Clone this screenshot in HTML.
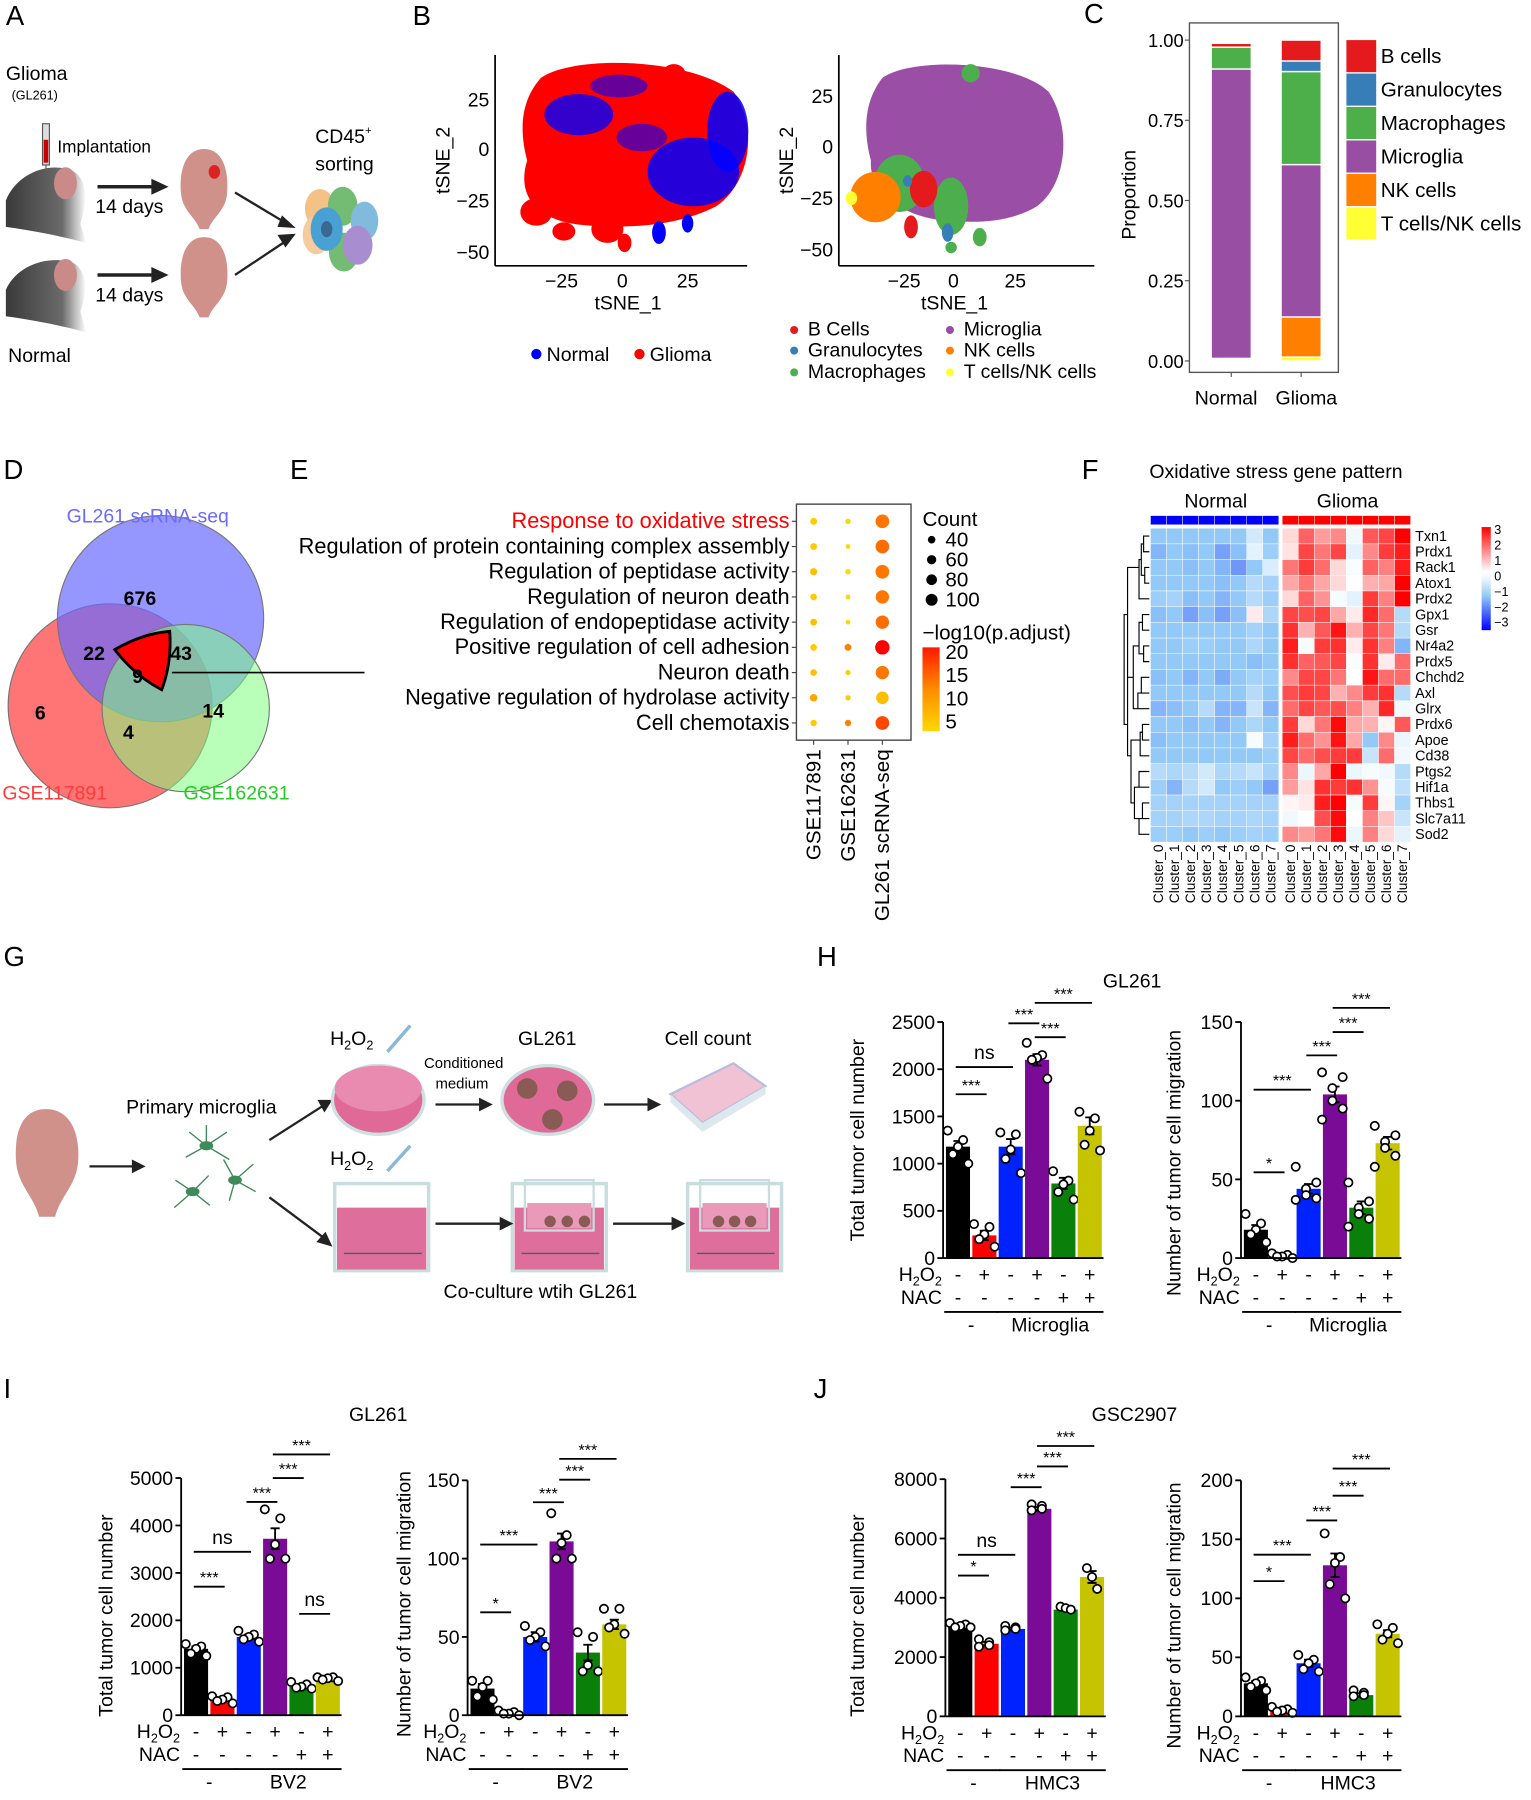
<!DOCTYPE html>
<html><head><meta charset="utf-8">
<style>
html,body{margin:0;padding:0;background:#fff;}
svg{display:block;font-family:"Liberation Sans",Arial,sans-serif;}
</style></head>
<body>
<svg id="fig" width="1531" height="1800" viewBox="0 0 1336 1571" xmlns="http://www.w3.org/2000/svg">
<!-- Panel letters -->
<g font-size="24" fill="#000">
<text x="5" y="22">A</text>
<text x="360" y="22">B</text>
<text x="946" y="20">C</text>
<text x="3" y="418">D</text>
<text x="253" y="418">E</text>
<text x="944" y="418">F</text>
<text x="3" y="843">G</text>
<text x="713" y="843">H</text>
<text x="3" y="1220">I</text>
<text x="710" y="1220">J</text>
</g>

<!-- Panel A illustration -->
<g>
<defs>
<linearGradient id="mouseG" x1="0" y1="0" x2="1" y2="0"><stop offset="0" stop-color="#3a3a3a"/><stop offset="0.7" stop-color="#6a6a6a"/><stop offset="1" stop-color="#fff"/></linearGradient>
</defs>
<text x="5" y="70" font-size="17">Glioma</text>
<text x="10" y="87" font-size="11">(GL261)</text>
<rect x="37" y="108" width="6" height="36" fill="#ddd" stroke="#555"/>
<rect x="38" y="122" width="4" height="20" fill="#c00"/>
<line x1="40" y1="144" x2="40" y2="160" stroke="#555"/>
<text x="50" y="133" font-size="15">Implantation</text>
<path d="M5,175 C15,150 45,140 65,150 C78,160 75,180 70,195 L75,212 C50,205 20,200 5,198 Z" fill="url(#mouseG)"/>
<ellipse cx="57" cy="160" rx="10" ry="14" fill="#c98a88"/>
<path d="M5,253 C15,230 45,222 65,230 C78,240 75,258 70,272 L75,290 C50,283 20,278 5,276 Z" fill="url(#mouseG)"/>
<ellipse cx="57" cy="240" rx="10" ry="14" fill="#c98a88"/>
<line x1="85" y1="163" x2="135" y2="163" stroke="#222" stroke-width="3"/><path d="M132,156 L147,163 L132,170Z" fill="#222"/>
<line x1="85" y1="240" x2="135" y2="240" stroke="#222" stroke-width="3"/><path d="M132,233 L147,240 L132,247Z" fill="#222"/>
<text x="83" y="186" font-size="17">14 days</text>
<text x="83" y="263" font-size="17">14 days</text>
<path d="M178,130 C195,130 200,150 198,170 C196,185 185,190 182,200 L174,200 C171,190 160,185 158,170 C156,150 161,130 178,130Z" fill="#cf918a"/>
<ellipse cx="187" cy="150" rx="5" ry="6" fill="#d22"/>
<path d="M178,207 C195,207 200,227 198,247 C196,262 185,267 182,277 L174,277 C171,267 160,262 158,247 C156,227 161,207 178,207Z" fill="#cf918a"/>
<line x1="205" y1="168" x2="250" y2="195" stroke="#222" stroke-width="2"/><path d="M246,188 L258,199 L242,198Z" fill="#222"/>
<line x1="205" y1="240" x2="250" y2="210" stroke="#222" stroke-width="2"/><path d="M242,205 L258,204 L249,216Z" fill="#222"/>
<text x="275" y="125" font-size="17">CD45<tspan font-size="10" dy="-8">+</tspan></text>
<text x="275" y="149" font-size="17">sorting</text>
<g opacity="0.85">
<ellipse cx="279" cy="182" rx="13" ry="17" fill="#f3b872"/>
<ellipse cx="299" cy="180" rx="13" ry="17" fill="#5cb05c"/>
<ellipse cx="318" cy="193" rx="12" ry="17" fill="#6bb0d8"/>
<ellipse cx="276" cy="205" rx="12" ry="17" fill="#f3c48e"/>
<ellipse cx="300" cy="220" rx="13" ry="17" fill="#5cb05c"/>
<ellipse cx="312" cy="214" rx="13" ry="17" fill="#9a7ac8"/>
<ellipse cx="285" cy="200" rx="14" ry="19" fill="#2a90cc"/>
<ellipse cx="285" cy="200" rx="5" ry="7" fill="#174f80"/>
</g>
<text x="7" y="316" font-size="17">Normal</text>
</g>

<!-- Panel B tSNE -->
<g>
<path d="M472,68 C500,48 600,50 640,80 C662,110 655,160 625,180 C590,198 545,200 505,196 C470,192 450,172 460,140 C452,110 456,86 472,68Z" fill="#f00"/>
<g fill="#00f">
<ellipse cx="605" cy="150" rx="40" ry="30" opacity="0.85"/>
<ellipse cx="505" cy="100" rx="30" ry="18" opacity="0.8"/>
<ellipse cx="635" cy="115" rx="18" ry="35" opacity="0.85"/>
<ellipse cx="560" cy="120" rx="22" ry="12" opacity="0.6"/>
<ellipse cx="540" cy="75" rx="25" ry="10" opacity="0.6"/>
<ellipse cx="575" cy="203" rx="6" ry="10"/>
<ellipse cx="600" cy="195" rx="5" ry="8"/>
</g>
<g fill="#f00">
<ellipse cx="468" cy="185" rx="14" ry="12"/><ellipse cx="492" cy="202" rx="10" ry="8"/>
<ellipse cx="545" cy="212" rx="6" ry="8"/><ellipse cx="530" cy="200" rx="14" ry="12"/>
<ellipse cx="588" cy="64" rx="10" ry="8"/>
</g>
<line x1="432" y1="48" x2="432" y2="232" stroke="#000" stroke-width="1.5"/>
<line x1="432" y1="232" x2="652" y2="232" stroke="#000" stroke-width="1.5"/>
<g font-size="17" text-anchor="end">
<text x="427" y="93">25</text><text x="427" y="136">0</text><text x="427" y="181">−25</text><text x="427" y="226">−50</text></g>
<g font-size="17" text-anchor="middle">
<text x="490" y="251">−25</text><text x="543" y="251">0</text><text x="600" y="251">25</text>
<text x="548" y="270">tSNE_1</text></g>
<text transform="translate(392,140) rotate(-90)" font-size="17" text-anchor="middle">tSNE_2</text>
<g font-size="17">
<circle cx="468" cy="309" r="4.5" fill="#00f"/><text x="477" y="315">Normal</text>
<circle cx="558" cy="309" r="4.5" fill="#f00"/><text x="567" y="315">Glioma</text></g>
</g>

<g>
<path d="M770,68 C795,50 885,52 915,80 C935,110 932,160 905,180 C880,195 850,195 820,192 C790,188 758,170 760,140 C752,110 756,86 770,68Z" fill="#9b4ea6"/>
<g fill="#4cae4c">
<ellipse cx="785" cy="160" rx="22" ry="25"/><ellipse cx="830" cy="180" rx="15" ry="25"/><ellipse cx="855" cy="207" rx="6" ry="8"/><ellipse cx="847" cy="64" rx="8" ry="8"/><ellipse cx="830" cy="216" rx="5" ry="5"/></g>
<ellipse cx="764" cy="172" rx="22" ry="22" fill="#ff8000"/>
<ellipse cx="806" cy="165" rx="12" ry="16" fill="#e41a1c"/>
<ellipse cx="795" cy="198" rx="6" ry="10" fill="#e41a1c"/>
<ellipse cx="827" cy="203" rx="5" ry="8" fill="#377eb8"/>
<ellipse cx="792" cy="158" rx="4" ry="5" fill="#377eb8"/>
<ellipse cx="743" cy="173" rx="5" ry="6" fill="#ffff33"/>
<line x1="732" y1="48" x2="732" y2="232" stroke="#000" stroke-width="1.5"/>
<line x1="732" y1="232" x2="955" y2="232" stroke="#000" stroke-width="1.5"/>
<g font-size="17" text-anchor="end">
<text x="727" y="90">25</text><text x="727" y="134">0</text><text x="727" y="179">−25</text><text x="727" y="224">−50</text></g>
<g font-size="17" text-anchor="middle">
<text x="789" y="251">−25</text><text x="832" y="251">0</text><text x="886" y="251">25</text>
<text x="833" y="270">tSNE_1</text></g>
<text transform="translate(692,140) rotate(-90)" font-size="17" text-anchor="middle">tSNE_2</text>
<g font-size="17">
<circle cx="693" cy="288" r="3.5" fill="#e41a1c"/><text x="705" y="293">B Cells</text>
<circle cx="693" cy="306" r="3.5" fill="#377eb8"/><text x="705" y="311">Granulocytes</text>
<circle cx="693" cy="325" r="3.5" fill="#4daf4a"/><text x="705" y="330">Macrophages</text>
<circle cx="829" cy="288" r="3.5" fill="#984ea3"/><text x="841" y="293">Microglia</text>
<circle cx="829" cy="306" r="3.5" fill="#ff7f00"/><text x="841" y="311">NK cells</text>
<circle cx="829" cy="325" r="3.5" fill="#ffff33"/><text x="841" y="330">T cells/NK cells</text>
</g>
</g>

<!-- Panel C -->
<g id="panelC"></g>

<!-- Panel D Venn -->
<g>
<circle cx="96" cy="616" r="89" fill="#ff5c5c" stroke="#777" fill-opacity="0.85"/>
<circle cx="140" cy="540" r="90" fill="#6a6aff" stroke="#777" fill-opacity="0.7"/>
<circle cx="162" cy="618" r="73" fill="#80ff80" stroke="#777" fill-opacity="0.55"/>
<path d="M100,567 Q124,553 148,551 Q150,578 141,602 Q118,590 100,567Z" fill="#f00" stroke="#000" stroke-width="2.5"/>
<line x1="150" y1="587" x2="318" y2="587" stroke="#000" stroke-width="1.5"/>
<g font-size="17" font-weight="bold" text-anchor="middle">
<text x="122" y="528">676</text><text x="82" y="576">22</text><text x="158" y="576">43</text><text x="120" y="596">9</text>
<text x="35" y="628">6</text><text x="186" y="626">14</text><text x="112" y="645">4</text></g>
<text x="58" y="456" font-size="17" fill="#6a6aff">GL261 scRNA-seq</text>
<text x="2" y="698" font-size="17" fill="#ff3b3b">GSE117891</text>
<text x="160" y="698" font-size="17" fill="#22cc22">GSE162631</text>
</g>

<!-- Panel E -->
<g id="panelE"></g>
<!-- Panel F -->
<g id="panelF"></g>

<!-- Panel G schematic -->
<g>
<path d="M40,968 C62,968 70,990 68,1015 C66,1035 52,1045 48,1062 L34,1062 C30,1045 16,1035 14,1015 C12,990 18,968 40,968Z" fill="#cf918a"/>
<line x1="78" y1="1018" x2="118" y2="1018" stroke="#222" stroke-width="2"/><path d="M115,1012 L127,1018 L115,1024Z" fill="#222"/>
<text x="110" y="972" font-size="17">Primary microglia</text>
<g stroke="#3f8a5a" stroke-width="1.2" fill="none">
<path d="M180,1000 l-15,-12 m15,12 l18,-12 m-18,12 l-18,10 m18,-10 l20,12 m-20,-12 l0,-18"/>
<path d="M168,1040 l-15,-10 m15,10 l-16,14 m16,-14 l15,12 m-15,-12 l14,-14"/>
<path d="M205,1030 l16,-14 m-16,14 l18,10 m-18,-10 l-10,-18 m10,18 l-5,18"/>
</g>
<g fill="#3f8a5a"><ellipse cx="180" cy="1000" rx="6" ry="4"/><ellipse cx="168" cy="1040" rx="6" ry="4"/><ellipse cx="205" cy="1030" rx="6" ry="4"/></g>
<line x1="235" y1="995" x2="282" y2="965" stroke="#222" stroke-width="2"/><path d="M277,960 L290,960 L283,971Z" fill="#222"/>
<line x1="235" y1="1045" x2="282" y2="1080" stroke="#222" stroke-width="2"/><path d="M276,1084 L290,1088 L284,1075Z" fill="#222"/>
<text x="288" y="912" font-size="17">H<tspan font-size="11" dy="4">2</tspan><tspan dy="-4">O</tspan><tspan font-size="11" dy="4">2</tspan></text>
<line x1="338" y1="918" x2="358" y2="895" stroke="#8ab8d8" stroke-width="3"/>
<ellipse cx="330" cy="960" rx="40" ry="30" fill="#e06a97" stroke="#cfe0e0" stroke-width="3"/>
<ellipse cx="330" cy="950" rx="38" ry="20" fill="#e98ab0"/>
<text x="370" y="932" font-size="13">Conditioned</text>
<text x="380" y="950" font-size="13">medium</text>
<line x1="380" y1="964" x2="420" y2="964" stroke="#222" stroke-width="2"/><path d="M418,958 L430,964 L418,970Z" fill="#222"/>
<text x="452" y="912" font-size="17">GL261</text>
<ellipse cx="478" cy="960" rx="40" ry="30" fill="#e06a97" stroke="#cfe0e0" stroke-width="3"/>
<g fill="#8a5a55"><circle cx="460" cy="950" r="9"/><circle cx="495" cy="952" r="9"/><circle cx="482" cy="977" r="9"/></g>
<line x1="527" y1="964" x2="567" y2="964" stroke="#222" stroke-width="2"/><path d="M565,958 L577,964 L565,970Z" fill="#222"/>
<text x="580" y="912" font-size="17">Cell count</text>
<path d="M585,955 L640,928 L668,948 L613,980Z" fill="#f1c2d4" stroke="#bbd" stroke-width="2"/>
<path d="M585,955 L585,962 L613,988 L668,955 L668,948 L613,980Z" fill="#dde8ee"/>
<text x="288" y="1017" font-size="17">H<tspan font-size="11" dy="4">2</tspan><tspan dy="-4">O</tspan><tspan font-size="11" dy="4">2</tspan></text>
<line x1="338" y1="1022" x2="358" y2="1000" stroke="#8ab8d8" stroke-width="3"/>
<g>
<rect x="292" y="1033" width="82" height="76" fill="#fff" stroke="#c8dede" stroke-width="3"/><rect x="294" y="1054" width="78" height="54" fill="#de6e9c"/>
<rect x="447" y="1033" width="82" height="76" fill="#fff" stroke="#c8dede" stroke-width="3"/><rect x="449" y="1054" width="78" height="54" fill="#de6e9c"/>
<rect x="458" y="1030" width="60" height="44" fill="none" stroke="#c8dede" stroke-width="2"/><rect x="460" y="1050" width="56" height="22" fill="#e99ab8"/>
<rect x="600" y="1033" width="82" height="76" fill="#fff" stroke="#c8dede" stroke-width="3"/><rect x="602" y="1054" width="78" height="54" fill="#de6e9c"/>
<rect x="611" y="1030" width="60" height="44" fill="none" stroke="#c8dede" stroke-width="2"/><rect x="613" y="1050" width="56" height="22" fill="#e99ab8"/>
<g fill="#8a5a55"><circle cx="480" cy="1066" r="5"/><circle cx="495" cy="1066" r="5"/><circle cx="510" cy="1066" r="5"/><circle cx="627" cy="1066" r="5"/><circle cx="641" cy="1066" r="5"/><circle cx="655" cy="1066" r="5"/></g>
<g stroke="#3f6a4a" stroke-width="1.2"><line x1="300" y1="1094" x2="368" y2="1094"/><line x1="455" y1="1094" x2="523" y2="1094"/><line x1="608" y1="1094" x2="676" y2="1094"/></g>
</g>
<line x1="380" y1="1068" x2="438" y2="1068" stroke="#222" stroke-width="2"/><path d="M436,1062 L448,1068 L436,1074Z" fill="#222"/>
<line x1="535" y1="1068" x2="588" y2="1068" stroke="#222" stroke-width="2"/><path d="M586,1062 L598,1068 L586,1074Z" fill="#222"/>
<text x="387" y="1133" font-size="17">Co-culture wtih GL261</text>
</g>

<g id="bars"></g>
<g font-size="17" text-anchor="middle">
<text x="988" y="862">GL261</text>
<text x="330" y="1240">GL261</text>
<text x="990" y="1240">GSC2907</text>
</g>
</svg>

<script>
// ---------------- Panel C data ----------------
const cCategories = ['T cells/NK cells','NK cells','Microglia','Macrophages','Granulocytes','B cells'];
const cColors = ['#ffff33','#ff7f00','#984ea3','#4daf4a','#377eb8','#e41a1c'];
const cNormal = [0.004, 0.004, 0.902, 0.068, 0.0, 0.012];
const cGlioma = [0.012, 0.125, 0.475, 0.29, 0.033, 0.065];
const cTicks = [0, 0.25, 0.5, 0.75, 1.0];
const cTickLabels = ['0.00','0.25','0.50','0.75','1.00'];
const cGroups = ['Normal','Glioma'];

// ---------------- Panel E data ----------------
const eTerms = ['Response to oxidative stress','Regulation of protein containing complex assembly','Regulation of peptidase activity','Regulation of neuron death','Regulation of endopeptidase activity','Positive regulation of cell adhesion','Neuron death','Negative regulation of hydrolase activity','Cell chemotaxis'];
const eDatasets = ['GSE117891','GSE162631','GL261 scRNA-seq'];
const eCount1 = [30, 30, 32, 28, 30, 28, 28, 36, 26];
const eCount2 = [18, 14, 18, 14, 14, 30, 16, 18, 26];
const eCount3 = [118, 118, 118, 112, 112, 130, 112, 100, 118];
const ePadj1 = [4, 4, 5, 4, 5, 4, 5, 7, 4];
const ePadj2 = [3, 3, 3, 3, 3, 10, 4, 4, 10];
const ePadj3 = [11, 12, 11, 11, 12, 21, 11, 5, 15];
const eCountLegend = [40, 60, 80, 100];
const eColorLegend = [20, 15, 10, 5];

// ---------------- Panel F data ----------------
const fGenes = ['Txn1','Prdx1','Rack1','Atox1','Prdx2','Gpx1','Gsr','Nr4a2','Prdx5','Chchd2','Axl','Glrx','Prdx6','Apoe','Cd38','Ptgs2','Hif1a','Thbs1','Slc7a11','Sod2'];
const fClusters = ['Cluster_0','Cluster_1','Cluster_2','Cluster_3','Cluster_4','Cluster_5','Cluster_6','Cluster_7'];
const fNormal = [
[-1.0,-1.0,-1.0,-1.0,-1.0,-1.0,-0.3,-1.0],
[-1.2,-1.0,-1.1,-1.0,-1.4,-1.1,-0.1,-0.9],
[-1.0,-1.0,-1.1,-1.0,-1.2,-1.5,-1.0,-0.2],
[-1.0,-1.0,-1.0,-1.0,-1.1,-1.0,-0.6,-0.8],
[-0.9,-0.8,-1.1,-1.0,-1.2,-1.0,-0.6,-0.9],
[-1.1,-1.0,-1.4,-1.1,-1.4,-1.1,0.6,-0.7],
[-1.0,-1.0,-1.0,-1.0,-1.0,-1.0,-0.8,-1.0],
[-1.0,-1.0,-0.9,-0.9,-1.0,-1.0,-0.7,-1.0],
[-1.0,-1.0,-1.0,-1.0,-1.0,-1.0,-1.1,-1.0],
[-1.1,-1.0,-1.2,-1.0,-1.3,-1.0,-0.8,-0.9],
[-1.0,-1.0,-1.0,-1.0,-1.0,-1.0,-0.6,-1.0],
[-1.2,-1.1,-1.0,-0.6,-1.2,-1.2,-0.4,-1.2],
[-1.0,-1.0,-1.1,-1.0,-1.2,-1.0,-0.7,-1.0],
[-1.1,-1.0,-1.0,-1.0,-1.0,-1.0,0.2,-0.8],
[-1.0,-1.0,-1.0,-1.0,-1.0,-1.0,-1.0,-0.9],
[-0.6,-0.7,-0.6,-0.3,-0.7,-0.6,-0.4,-0.8],
[-0.9,-1.2,-0.6,-0.3,-1.0,-0.9,-1.0,-1.4],
[-0.8,-0.8,-0.8,-0.8,-0.8,-0.8,-0.8,-0.8],
[-0.8,-0.8,-0.7,-0.7,-0.8,-0.8,-0.7,-0.8],
[-0.9,-0.9,-1.0,-0.9,-1.0,-0.9,-0.8,-0.9]];
const fGlioma = [
[0.8,2.0,1.4,1.6,0.1,2.1,2.3,3.0],
[0.7,2.3,1.8,2.3,-0.1,1.6,2.4,2.7],
[1.8,2.4,1.9,0.8,0.3,2.0,1.7,2.7],
[1.3,1.8,1.3,0.8,0.4,1.2,1.3,3.0],
[0.8,2.0,1.5,0.2,-0.1,2.4,1.7,3.0],
[2.3,2.2,2.3,1.3,0.6,2.6,1.9,-0.6],
[2.5,1.2,2.1,2.8,1.2,2.3,1.8,-0.6],
[2.7,0.2,2.4,2.5,0.6,2.5,1.7,-1.2],
[2.5,2.0,2.1,2.3,0.3,2.5,0.6,1.9],
[1.6,2.3,2.3,1.8,0.4,2.8,1.9,1.9],
[2.2,2.4,2.3,1.2,1.6,2.4,2.5,-0.6],
[1.9,2.3,2.1,2.2,1.7,1.2,2.6,0.1],
[2.4,0.8,1.8,2.9,1.3,1.2,0.5,2.1],
[2.7,1.9,1.5,2.8,1.3,-1.0,1.6,0.0],
[2.3,1.9,2.2,2.4,2.4,-0.4,1.9,0.1],
[1.6,0.0,1.3,3.0,0.0,0.2,0.1,-0.6],
[1.4,0.7,2.5,2.4,2.5,1.5,0.2,-0.5],
[0.5,0.6,2.7,3.0,0.2,2.4,0.5,-0.8],
[0.1,0.4,2.2,2.9,0.4,1.7,1.0,-0.4],
[1.6,1.4,1.8,2.9,0.0,1.7,0.8,-0.1]];
const fLegendTicks = [3,2,1,0,-1,-2,-3];

// ---------------- Bar chart data ----------------
const barColors = ['#000000','#ff0000','#0022ff','#7a0b96','#0a800a','#c6c400'];
const h2o2Signs = ['-','+','-','+','-','+'];
const nacSigns = ['-','-','-','-','+','+'];

const hLeftTicks = [0,500,1000,1500,2000,2500];
const hLeftValues = [1180, 240, 1180, 2100, 790, 1400];
const hLeftErr = [60, 50, 80, 60, 60, 90];
const hLeftPoints = [[1350,1250,1180,1100,1000],[360,330,250,200,120],[1330,1310,1150,1050,900],[2280,2150,2120,2100,1900],[920,820,780,700,620],[1550,1480,1350,1200,1140]];
const hLeftSigs = [[0,1,1735,'***'],[0,2,2023,'ns'],[2,3,2486,'***'],[3,4,2339,'***'],[3,5,2703,'***']];

const hRightTicks = [0,50,100,150];
const hRightValues = [18, 2, 44, 104, 32, 73];
const hRightErr = [3, 0.6, 3, 5, 4, 4];
const hRightPoints = [[28,22,18,15,10],[3,2,1,1,0],[58,48,44,40,38,37],[118,115,108,100,95,88],[48,36,32,28,25,20],[84,78,74,70,65,58]];
const hRightSigs = [[0,1,54.5,'*'],[0,2,107,'***'],[2,3,128.8,'***'],[3,4,143.6,'***'],[3,5,159,'***']];

const iLeftTicks = [0,1000,2000,3000,4000,5000];
const iLeftValues = [1400, 330, 1650, 3720, 600, 770];
const iLeftErr = [50, 30, 50, 220, 30, 30];
const iLeftPoints = [[1500,1450,1400,1300,1250],[400,380,330,300,250],[1780,1700,1650,1600,1550],[4340,4150,3600,3300,3300],[700,650,600,580,560],[800,800,780,750,720]];
const iLeftSigs = [[0,1,2710,'***'],[0,2,3445,'ns'],[2,3,4496,'***'],[3,4,5000,'***'],[3,5,5497,'***'],[4,5,2136,'ns']];

const iRightTicks = [0,50,100,150];
const iRightValues = [17, 1.5, 50, 111, 40, 58];
const iRightErr = [3, 0.5, 3, 5, 5, 3];
const iRightPoints = [[22,22,18,12,10],[3,2,1,1,0],[57,53,50,48,44],[129,115,110,100,100],[53,50,32,28,28],[68,68,58,56,52]];
const iRightSigs = [[0,1,65.7,'*'],[0,2,109,'***'],[2,3,136,'***'],[3,4,150.4,'***'],[3,5,163.7,'***']];

const jLeftTicks = [0,2000,4000,6000,8000];
const jLeftValues = [3050, 2450, 2950, 7000, 3600, 4700];
const jLeftErr = [40, 60, 40, 60, 40, 200];
const jLeftPoints = [[3150,3100,3050,3000,3000],[2600,2500,2400,2350],[3050,3000,2950,2900],[7150,7100,7000,6950],[3700,3650,3600],[5000,4700,4300]];
const jLeftSigs = [[0,1,4750,'*'],[0,2,5450,'ns'],[2,3,7730,'***'],[3,4,8430,'***'],[3,5,9120,'***']];

const jRightTicks = [0,50,100,150,200];
const jRightValues = [28, 6, 45, 128, 18, 70];
const jRightErr = [2, 1, 3, 10, 1.5, 3];
const jRightPoints = [[33,30,28,25,22],[8,6,5,4,3],[52,48,45,40,38],[155,135,130,112,100],[22,20,18,17],[78,75,70,65,62]];
const jRightSigs = [[0,1,114.6,'*'],[0,2,137,'***'],[2,3,166,'***'],[3,4,187,'***'],[3,5,210,'***']];

// ---------------- helpers ----------------
const NS = 'http://www.w3.org/2000/svg';
function mk(tag, attrs, parent, txt) {
  const e = document.createElementNS(NS, tag);
  for (const k in attrs) e.setAttribute(k, attrs[k]);
  if (txt !== undefined) e.textContent = txt;
  parent.appendChild(e);
  return e;
}

// ---------------- Panel C ----------------
(function(){
  const g = document.getElementById('panelC');
  const y = v => 315 - 280 * v;
  const frame = mk('rect', {x:1038, y:20, width:130, height:305, fill:'none', stroke:'#555', 'stroke-width':1.2}, g);
  
  
  cTicks.forEach((t, i) => {
    mk('line', {x1:1034, x2:1038, y1:y(t), y2:y(t), stroke:'#555'}, g);
    const tl = mk('text', {x:1033, y:y(t)+6, 'font-size':16, 'text-anchor':'end'}, g, cTickLabels[i]);
    
    
  });
  const yl = mk('text', {transform:'translate(991,170) rotate(-90)', 'font-size':17, 'text-anchor':'middle'}, g, 'Proportion');
  
  
  const series = [cNormal, cGlioma];
  const xs = [1057, 1118];
  series.forEach((vals, gi) => {
    let cum = 0;
    vals.forEach((v, ci) => {
      if (v > 0) {
        const r = mk('rect', {x:xs[gi], y:y(cum+v), width:35, height:Math.max(0.5, 280*v), fill:cColors[ci], stroke:'#fff', 'stroke-width':1.2}, g);
        
        
      }
      cum += v;
    });
    mk('line', {x1:xs[gi]+17.5, x2:xs[gi]+17.5, y1:325, y2:329, stroke:'#555'}, g);
    const lab = mk('text', {x:xs[gi]+(gi===0?13:22), y:353, 'font-size':17, 'text-anchor':'middle'}, g, cGroups[gi]);
    
    
  });
  cCategories.slice().reverse().forEach((name, i) => {
    const ci = cCategories.length - 1 - i;
    const ly = 35 + i * 29.2;
    const sw = mk('rect', {x:1175, y:ly, width:26, height:28, fill:cColors[ci]}, g);
    
    
    const lt = mk('text', {x:1205, y:ly+20, 'font-size':18}, g, name);
    
    
  });
})();

// ---------------- Panel E ----------------
(function(){
  const g = document.getElementById('panelE');
  const colX = [710, 740, 770];
  const rowY = i => 455 + i * 22;
  const rad = c => Math.sqrt(c) * 0.55;
  const col = v => { const t = Math.max(0, Math.min(1, (v - 3) / 18)); return 'rgb(255,' + Math.round(215 * (1 - t)) + ',0)'; };
  const box = mk('rect', {x:695, y:440, width:100, height:206, fill:'none', stroke:'#444', 'stroke-width':1.2}, g);
  
  
  const counts = [eCount1, eCount2, eCount3];
  const padjs = [ePadj1, ePadj2, ePadj3];
  eTerms.forEach((t, i) => {
    const tx = mk('text', {x:689, y:rowY(i)+6, 'font-size':19, 'text-anchor':'end', fill: i===0 ? '#f00' : '#000'}, g, t);
    
    
    mk('line', {x1:691, x2:695, y1:rowY(i), y2:rowY(i), stroke:'#444'}, g);
    counts.forEach((arr, j) => {
      const c = mk('circle', {cx:colX[j], cy:rowY(i), r:rad(arr[i]), fill:col(padjs[j][i])}, g);
      
      
    });
  });
  eDatasets.forEach((d, j) => {
    mk('line', {x1:colX[j], x2:colX[j], y1:646, y2:650, stroke:'#444'}, g);
    const t = mk('text', {transform:'translate(' + (colX[j]+6) + ',654) rotate(-90)', 'font-size':18, 'text-anchor':'end'}, g, d);
    
    
  });
  const ct = mk('text', {x:805, y:459, 'font-size':18}, g, 'Count');
  
  
  eCountLegend.forEach((c, i) => {
    const ly = 471 + i * 17.5;
    mk('circle', {cx:813, cy:ly, r:rad(c)*0.95, fill:'#000'}, g);
    const lt = mk('text', {x:825, y:ly+6, 'font-size':18}, g, String(c));
    
    
  });
  const pt = mk('text', {x:805, y:558, 'font-size':18}, g, '\u2212log10(p.adjust)');
  
  
  const defs = mk('defs', {}, g);
  const lg = mk('linearGradient', {id:'padjG', x1:0, y1:0, x2:0, y2:1}, defs);
  mk('stop', {offset:0, 'stop-color':'#ff1a00'}, lg);
  mk('stop', {offset:0.5, 'stop-color':'#ff8c00'}, lg);
  mk('stop', {offset:1, 'stop-color':'#ffd700'}, lg);
  mk('rect', {x:805, y:565, width:15, height:73, fill:'url(#padjG)'}, g);
  eColorLegend.forEach((v, i) => {
    const ly = 565 + (21 - v) / 18 * 73;
    const lt = mk('text', {x:825, y:ly+6, 'font-size':18}, g, String(v));
    
    
  });
})();

// ---------------- Panel F ----------------
(function(){
  const g = document.getElementById('panelF');
  const lerp = (a, b, t) => a.map((x, i) => Math.round(x + (b[i] - x) * t));
  function hc(v) {
    v = Math.max(-3, Math.min(3, v));
    let c;
    if (v >= 0.4) c = lerp([255,255,255], [255,0,0], (v - 0.4) / 2.6);
    else if (v >= 0) c = lerp([236,246,253], [255,255,255], v / 0.4);
    else if (v >= -1) c = lerp([236,246,253], [146,201,247], -v);
    else c = lerp([146,201,247], [0,0,255], (-v - 1) / 2);
    return 'rgb(' + c.join(',') + ')';
  }
  const t = mk('text', {x:1003, y:417, 'font-size':17}, g, 'Oxidative stress gene pattern');
  
  
  const n1 = mk('text', {x:1061, y:443, 'font-size':17, 'text-anchor':'middle'}, g, 'Normal');
  
  
  const n2 = mk('text', {x:1176, y:443, 'font-size':17, 'text-anchor':'middle'}, g, 'Glioma');
  
  
  const cw = 14, rh = 13.7, y0 = 461;
  const gx = [1004, 1119];
  [fNormal, fGlioma].forEach((mat, gi) => {
    for (let c = 0; c < 8; c++) {
      mk('rect', {x:gx[gi]+c*cw, y:450, width:cw, height:8, fill: gi===0 ? '#0000ff' : '#ff0000', stroke:'#fff', 'stroke-width':0.4}, g);
      const lab = mk('text', {transform:'translate(' + (gx[gi]+c*cw+11) + ',737) rotate(-90)', 'font-size':12, 'text-anchor':'end'}, g, fClusters[c]);
      
      
    }
    mat.forEach((row, r) => {
      row.forEach((v, c) => {
        const cell = mk('rect', {x:gx[gi]+c*cw, y:y0+r*rh, width:cw, height:rh, fill:hc(v), stroke:'#fff', 'stroke-width':0.4}, g);
        
        
      });
    });
  });
  fGenes.forEach((gn, r) => {
    const lt = mk('text', {x:1235, y:y0+r*rh+11, 'font-size':12.5}, g, gn);
    
    
  });
  // dendrogram
  const dy = r => y0 + r * rh + rh / 2;
  const dp = 'M1003,' + dy(0) + 'H998V' + dy(1) + 'H1003 M1003,' + dy(2) + 'H999V' + dy(3) + 'H1003 M998,' + (dy(0)+dy(1))/2 + 'H996V' + (dy(2)+dy(3))/2 + 'H999 M1003,' + dy(4) + 'H994V' + ((dy(0)+dy(3))/2) + 'H996' +
    ' M1003,' + dy(5) + 'H997V' + dy(6) + 'H1003 M1003,' + dy(7) + 'H998V' + dy(8) + 'H1003 M997,' + (dy(5)+dy(6))/2 + 'H994V' + (dy(7)+dy(8))/2 + 'H998 M1003,' + dy(9) + 'H996V' + dy(10) + 'H1003 M1003,' + dy(11) + 'H993V' + dy(10) + 'H996 M994,' + dy(7) + 'H989V' + dy(11) + 'H993' +
    ' M1003,' + dy(12) + 'H997V' + dy(13) + 'H1003 M1003,' + dy(14) + 'H995V' + (dy(12)+dy(13))/2 + 'H997 M1003,' + dy(15) + 'H994V' + dy(16) + 'H1003 M1003,' + dy(17) + 'H997V' + dy(18) + 'H1003 M1003,' + dy(19) + 'H994V' + dy(18) + 'H997 M994,' + dy(16) + 'H990V' + dy(18) + 'H994 M995,' + dy(13) + 'H987V' + dy(17) + 'H990' +
    ' M994,' + dy(2) + 'H984V' + dy(14) + 'H987 M989,' + dy(9) + 'H984 M984,' + dy(5) + 'H981V' + dy(12) + 'H984';
  const den = mk('path', {d:dp, fill:'none', stroke:'#000', 'stroke-width':1}, g);
  
  
  const lgDefs = mk('defs', {}, g);
  const grd = mk('linearGradient', {id:'hmG', x1:0, y1:0, x2:0, y2:1}, lgDefs);
  [[0,'#ff0000'],[0.43,'#ffffff'],[0.5,'#ecf6fd'],[0.67,'#92c9f7'],[1,'#0000ff']].forEach(s => mk('stop', {offset:s[0], 'stop-color':s[1]}, grd));
  const cb = mk('rect', {x:1293, y:460, width:8, height:90, fill:'url(#hmG)'}, g);
  
  
  fLegendTicks.forEach((v, i) => {
    mk('text', {x:1304, y:466 + i * 13.5, 'font-size':11}, g, v < 0 ? '\u2212' + (-v) : String(v));
  });
})();

// ---------------- Bar charts ----------------
function drawBarChart(p, ticks, values, errs, points, sigs) {
  const root = document.getElementById('bars');
  const g = mk('g', {}, root);
  
  
  const y = v => p.y0 - (v / p.max) * (p.y0 - p.yTop);
  const cx = i => p.x0 + 13 + i * 23;
  const right = cx(5) + 12;
  mk('line', {x1:p.x0, x2:p.x0, y1:p.y0, y2:y(ticks[ticks.length-1]), stroke:'#000', 'stroke-width':1.6}, g);
  ticks.forEach(t => {
    mk('line', {x1:p.x0-5, x2:p.x0, y1:y(t), y2:y(t), stroke:'#000', 'stroke-width':1.6}, g);
    const tl = mk('text', {x:p.x0-7, y:y(t)+6, 'font-size':17, 'text-anchor':'end'}, g, String(t));
    
    
  });
  const yt = mk('text', {transform:'translate(' + p.titleX + ',' + p.titleY + ') rotate(-90)', 'font-size':17, 'text-anchor':'middle'}, g, p.title);
  
  
  values.forEach((v, i) => {
    const b = mk('rect', {x:cx(i)-10.5, y:y(v), width:21, height:p.y0 - y(v), fill:barColors[i]}, g);
    
    
    mk('path', {d:'M' + cx(i) + ',' + y(v+errs[i]) + 'V' + y(v-errs[i]) + 'M' + (cx(i)-4) + ',' + y(v+errs[i]) + 'h8M' + (cx(i)-4) + ',' + y(v-errs[i]) + 'h8', stroke:'#000', 'stroke-width':1.6, fill:'none'}, g);
    const pts = points[i];
    pts.forEach((pv, k) => {
      const off = (k - (pts.length - 1) / 2) * 4.5 * (k % 2 ? -1 : 1);
      const c = mk('circle', {cx:cx(i)+off, cy:y(pv), r:3.6, fill:'#fff', stroke:'#000', 'stroke-width':1.5}, g);
      
      
    });
  });
  mk('line', {x1:p.x0, x2:right, y1:p.y0, y2:p.y0, stroke:'#000', 'stroke-width':1.6}, g);
  sigs.forEach(s => {
    const sy = y(s[2]);
    mk('line', {x1:cx(s[0])-2, x2:cx(s[1])+2, y1:sy, y2:sy, stroke:'#000', 'stroke-width':1.6}, g);
    const st = mk('text', {x:(cx(s[0])+cx(s[1]))/2, y: s[3]==='ns' ? sy-7 : sy-3, 'font-size': s[3]==='ns' ? 17 : 14, 'text-anchor':'middle'}, g, s[3]);
    
    
  });
  const r1 = p.y0 + 20, r2 = p.y0 + 40;
  const hl = mk('text', {x:p.x0-1, y:r1, 'font-size':17, 'text-anchor':'end'}, g);
  
  
  mk('tspan', {}, hl, 'H');
  mk('tspan', {'font-size':11, dy:4}, hl, '2');
  mk('tspan', {dy:-4}, hl, 'O');
  mk('tspan', {'font-size':11, dy:4}, hl, '2');
  const nl = mk('text', {x:p.x0-1, y:r2, 'font-size':17, 'text-anchor':'end'}, g, 'NAC');
  
  
  for (let i = 0; i < 6; i++) {
    mk('text', {x:cx(i), y:r1, 'font-size':17, 'text-anchor':'middle'}, g, h2o2Signs[i]);
    mk('text', {x:cx(i), y:r2, 'font-size':17, 'text-anchor':'middle'}, g, nacSigns[i]);
  }
  const ly = p.y0 + 47;
  mk('line', {x1:cx(0)-12, x2:cx(1)+12, y1:ly, y2:ly, stroke:'#000', 'stroke-width':1.6}, g);
  mk('line', {x1:cx(2)-12, x2:cx(5)+12, y1:ly, y2:ly, stroke:'#000', 'stroke-width':1.6}, g);
  mk('text', {x:(cx(0)+cx(1))/2, y:ly+17, 'font-size':17, 'text-anchor':'middle'}, g, '-');
  const gl = mk('text', {x:(cx(2)+cx(5))/2, y:ly+17, 'font-size':17, 'text-anchor':'middle'}, g, p.group);
  
  
}

drawBarChart({name:'h-tumor-count-chart', x0:823, y0:1098, yTop:892, max:2500, title:'Total tumor cell number', titleX:754, titleY:995, group:'Microglia'}, hLeftTicks, hLeftValues, hLeftErr, hLeftPoints, hLeftSigs);
drawBarChart({name:'h-migration-chart', x0:1083, y0:1098, yTop:892, max:150, title:'Number of tumor cell migration', titleX:1030, titleY:1015, group:'Microglia'}, hRightTicks, hRightValues, hRightErr, hRightPoints, hRightSigs);
drawBarChart({name:'i-tumor-count-chart', x0:158, y0:1497, yTop:1290, max:5000, title:'Total tumor cell number', titleX:98, titleY:1410, group:'BV2'}, iLeftTicks, iLeftValues, iLeftErr, iLeftPoints, iLeftSigs);
drawBarChart({name:'i-migration-chart', x0:408, y0:1497, yTop:1292, max:150, title:'Number of tumor cell migration', titleX:358, titleY:1400, group:'BV2'}, iRightTicks, iRightValues, iRightErr, iRightPoints, iRightSigs);
drawBarChart({name:'j-tumor-count-chart', x0:825, y0:1498, yTop:1291, max:8000, title:'Total tumor cell number', titleX:754, titleY:1410, group:'HMC3'}, jLeftTicks, jLeftValues, jLeftErr, jLeftPoints, jLeftSigs);
drawBarChart({name:'j-migration-chart', x0:1083, y0:1498, yTop:1292, max:200, title:'Number of tumor cell migration', titleX:1030, titleY:1410, group:'HMC3'}, jRightTicks, jRightValues, jRightErr, jRightPoints, jRightSigs);
</script>
</body></html>
